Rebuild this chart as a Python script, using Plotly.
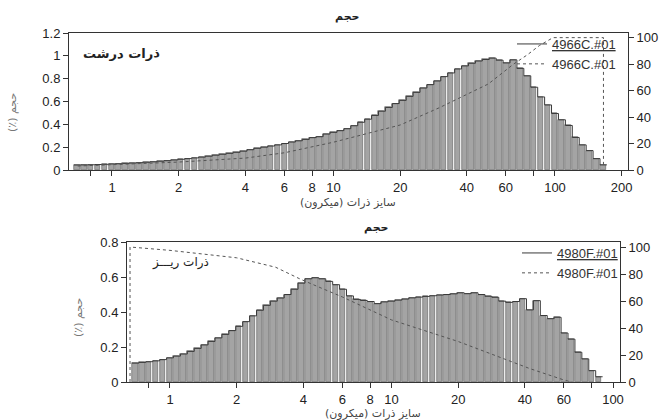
import numpy as np
import plotly.graph_objects as go

# ---------------- data ----------------
# coarse particles (4966C.#01)
sizes_coarse = [0.698, 0.750, 0.806, 0.866, 0.931, 1.000, 1.075, 1.155, 1.241, 1.334, 1.433, 1.540,
                1.655, 1.778, 1.911, 2.054, 2.207, 2.371, 2.548, 2.738, 2.943, 3.162, 3.398, 3.652,
                3.924, 4.217, 4.532, 4.870, 5.233, 5.623, 6.043, 6.494, 6.978, 7.499, 8.058, 8.660,
                9.306, 10.00, 10.75, 11.55, 12.41, 13.34, 14.33, 15.40, 16.55, 17.78, 19.11, 20.54,
                22.07, 23.71, 25.48, 27.38, 29.43, 31.62, 33.98, 36.52, 39.24, 42.17, 45.32, 48.70,
                52.33, 56.23, 60.43, 64.94, 69.78, 74.99, 80.58, 86.60, 93.06, 100.0, 107.5, 115.5,
                124.1, 133.4, 143.3, 154.0, 165.5]
volume_coarse = [0.044, 0.045, 0.046, 0.048, 0.050, 0.053, 0.055, 0.058, 0.061, 0.064, 0.068, 0.072,
                 0.077, 0.082, 0.088, 0.094, 0.100, 0.106, 0.113, 0.121, 0.130, 0.138, 0.146, 0.155,
                 0.165, 0.178, 0.190, 0.200, 0.210, 0.220, 0.232, 0.245, 0.256, 0.268, 0.284, 0.292,
                 0.315, 0.330, 0.345, 0.362, 0.388, 0.418, 0.445, 0.478, 0.515, 0.548, 0.582, 0.610,
                 0.645, 0.680, 0.718, 0.748, 0.780, 0.818, 0.850, 0.885, 0.912, 0.935, 0.955, 0.968,
                 0.980, 0.962, 0.938, 0.965, 0.890, 0.825, 0.725, 0.640, 0.570, 0.495, 0.440, 0.390,
                 0.285, 0.220, 0.170, 0.100, 0.045]
cum_x_coarse = [0.70, 1.0, 2.0, 4.0, 6.0, 10, 20, 30, 40, 50, 65, 75, 85, 98, 165.5, 165.5]
cum_y_coarse = [3, 4, 6, 9, 13, 21, 34, 47, 57, 65, 80, 87, 94, 100, 100, 3]

# fine particles (4980F.#01)
sizes_fine = [0.698, 0.750, 0.806, 0.866, 0.931, 1.000, 1.075, 1.155, 1.241, 1.334, 1.433, 1.540,
              1.655, 1.778, 1.911, 2.054, 2.207, 2.371, 2.548, 2.738, 2.943, 3.162, 3.398, 3.652,
              3.924, 4.217, 4.532, 4.870, 5.233, 5.623, 6.043, 6.494, 6.978, 7.499, 8.058, 8.660,
              9.306, 10.00, 10.75, 11.55, 12.41, 13.34, 14.33, 15.40, 16.55, 17.78, 19.11, 20.54,
              22.07, 23.71, 25.48, 27.38, 29.43, 31.62, 33.98, 36.52, 39.24, 42.17, 45.32, 48.70,
              52.33, 56.23, 60.43, 64.94, 69.78, 74.99, 80.58, 86.60]
volume_fine = [0.108, 0.112, 0.116, 0.121, 0.128, 0.138, 0.148, 0.160, 0.175, 0.192, 0.212, 0.232,
               0.252, 0.272, 0.294, 0.318, 0.345, 0.378, 0.410, 0.438, 0.462, 0.480, 0.500, 0.530,
               0.565, 0.590, 0.596, 0.590, 0.575, 0.556, 0.530, 0.492, 0.472, 0.466, 0.460, 0.448,
               0.458, 0.462, 0.468, 0.474, 0.481, 0.485, 0.489, 0.493, 0.497, 0.500, 0.504, 0.510,
               0.505, 0.510, 0.500, 0.490, 0.484, 0.462, 0.455, 0.460, 0.476, 0.412, 0.465, 0.380,
               0.362, 0.370, 0.280, 0.245, 0.170, 0.132, 0.065, 0.030]
cum_x_fine = [0.66, 0.66, 1.0, 2.0, 3.0, 3.9, 4.75, 6.0, 10, 20, 25, 34, 42, 60, 65]
cum_y_fine = [0, 100, 97.5, 92, 85, 76, 70, 63, 46, 30, 24, 16, 10, 1.5, 0]

x_tick_vals = [0.8, 1, 2, 4, 6, 8, 10, 20, 40, 60, 80, 100, 200]
x_tick_text = ["", "1", "2", "4", "6", "8", "10", "20", "40", "60", "", "100", "200"]

name_coarse = "4966C.#01"
name_fine = "4980F.#01"
RLM = "\u200f"
title_text = "حجم"
xtitle_text = RLM + "سایز ذرات (میکرون)" + RLM
ytitle_text = RLM + "حجم (٪)" + RLM
label_coarse = "ذرات درشت"
label_fine = "ذرات ریـــز"

# ---------------- helpers ----------------
def bin_edges(xs):
    xs = np.asarray(xs, dtype=float)
    mids = np.sqrt(xs[:-1] * xs[1:])
    left = xs[0] * np.sqrt(xs[0] / xs[1])
    right = xs[-1] * np.sqrt(xs[-1] / xs[-2])
    return np.concatenate([[left], mids, [right]])

BAR_FILL = "#a4a4a4"
BAR_LINE = "#5a5a5a"
OUTLINE = "#3a3a3a"
LATIN = "Liberation Sans, Arial, sans-serif"
PERSIAN = "DejaVu Sans, sans-serif"

fig = go.Figure()

def add_panel(sizes, vols, cx, cy, name, xa, ya, ya2, legend):
    e = bin_edges(sizes)
    left = e[:-1]
    w = (e[1:] - e[:-1])
    fig.add_trace(go.Bar(x=left, y=vols, offset=0, width=w * 0.82,
                         marker=dict(color=BAR_FILL, line=dict(color=BAR_LINE, width=0.6)),
                         xaxis=xa, yaxis=ya, showlegend=False, hoverinfo="skip"))
    fig.add_trace(go.Scatter(x=list(e), y=list(vols) + [vols[-1]], mode="lines",
                             line=dict(color=OUTLINE, width=1, shape="hv"),
                             xaxis=xa, yaxis=ya, name="<u>" + name + "</u>", legend=legend))
    fig.add_trace(go.Scatter(x=cx, y=cy, mode="lines",
                             line=dict(color="#555555", width=1, dash="dot"),
                             xaxis=xa, yaxis=ya2, name=name, legend=legend))

add_panel(sizes_coarse, volume_coarse, cum_x_coarse, cum_y_coarse, name_coarse, "x", "y", "y2", "legend")
add_panel(sizes_fine, volume_fine, cum_x_fine, cum_y_fine, name_fine, "x2", "y3", "y4", "legend2")

W, H = 665, 420
top_dom_x = [69 / W, 628 / W]
top_dom_y = [1 - 170 / H, 1 - 33 / H]
bot_dom_x = [127 / W, 620 / W]
bot_dom_y = [1 - 382 / H, 1 - 242 / H]

tickfont = dict(family=LATIN, size=13, color="#222222")
axcommon = dict(showline=True, linecolor="#333333", linewidth=1, ticks="outside", ticklen=5,
                tickcolor="#333333", showgrid=False, zeroline=False, tickfont=tickfont,
                automargin=False)

fig.update_layout(
    width=W, height=H, margin=dict(l=0, r=0, t=0, b=0),
    paper_bgcolor="white", plot_bgcolor="white", barmode="overlay", bargap=0,
    xaxis=dict(type="log", domain=top_dom_x, range=[-0.1941, 2.3296], anchor="y",
               tickvals=x_tick_vals, ticktext=x_tick_text, mirror=True, **axcommon),
    yaxis=dict(domain=top_dom_y, range=[0, 1.2], anchor="x", dtick=0.2, **axcommon),
    yaxis2=dict(overlaying="y", side="right", range=[0, 103.5], anchor="x", dtick=20, **axcommon),
    xaxis2=dict(type="log", domain=bot_dom_x, range=[-0.1941, 2.0316], anchor="y3",
                tickvals=x_tick_vals, ticktext=x_tick_text, mirror=True, **axcommon),
    yaxis3=dict(domain=bot_dom_y, range=[0, 0.8], anchor="x2", dtick=0.2, **axcommon),
    yaxis4=dict(overlaying="y3", side="right", range=[0, 103.7], anchor="x2", dtick=20, **axcommon),
    legend=dict(x=512 / W, y=1 - 29 / H, xanchor="left", yanchor="top", bgcolor="rgba(0,0,0,0)",
                font=dict(family=LATIN, size=13, color="#333333"), itemwidth=30, tracegroupgap=0),
    legend2=dict(x=517 / W, y=1 - 238 / H, xanchor="left", yanchor="top", bgcolor="rgba(0,0,0,0)",
                 font=dict(family=LATIN, size=13, color="#333333"), itemwidth=30, tracegroupgap=0),
)

ann = []
def text(x, y, t, size, bold=False, color="#222222", angle=0, family=PERSIAN):
    ann.append(dict(x=x / W, y=1 - y / H, xref="paper", yref="paper", text=(f"<b>{t}</b>" if bold else t),
                    showarrow=False, font=dict(family=family, size=size, color=color),
                    textangle=angle, xanchor="center", yanchor="middle"))

# top panel
text(347, 17, title_text, 11, bold=True)
text(348, 202, xtitle_text, 11, color="#444444")
text(13, 113, ytitle_text, 11, color="#777777", angle=-90)
text(121, 53, label_coarse, 13, bold=True)
# bottom panel
text(376, 227, title_text, 11, bold=True)
text(373, 413, xtitle_text, 11, color="#444444")
text(78, 318, ytitle_text, 11, color="#777777", angle=-90)
text(181, 262, label_fine, 12)
fig.update_layout(annotations=ann)

fig.write_html("out.html", config={"displayModeBar": False},
               post_script="document.body.style.margin='0';document.body.style.overflow='hidden';")
